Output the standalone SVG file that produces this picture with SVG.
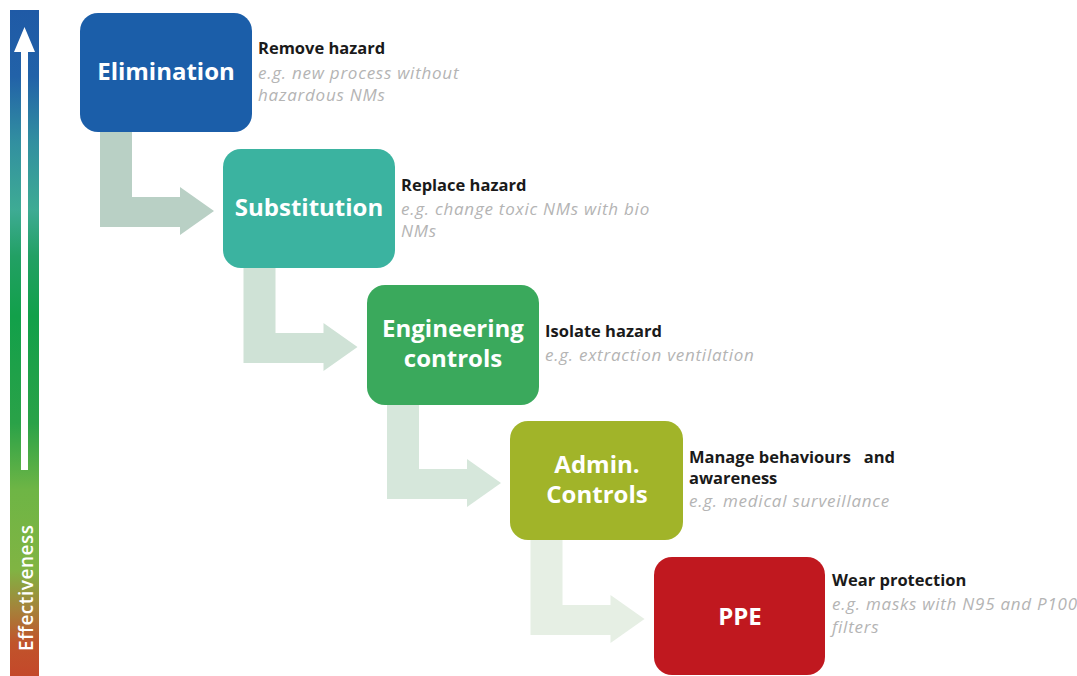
<svg xmlns="http://www.w3.org/2000/svg" width="1077" height="676" viewBox="0 0 1077 676">
  <defs>
    <linearGradient id="effGrad" x1="0" y1="0" x2="0" y2="1">
      <stop offset="0" stop-color="#1f5aa6"/>
      <stop offset="0.1" stop-color="#2262a8"/>
      <stop offset="0.2" stop-color="#3290a0"/>
      <stop offset="0.3" stop-color="#3eab94"/>
      <stop offset="0.37" stop-color="#22a064"/>
      <stop offset="0.46" stop-color="#12a04a"/>
      <stop offset="0.62" stop-color="#2aa248"/>
      <stop offset="0.72" stop-color="#6eb545"/>
      <stop offset="0.84" stop-color="#80b443"/>
      <stop offset="0.9" stop-color="#a5823a"/>
      <stop offset="0.95" stop-color="#c0542b"/>
      <stop offset="1" stop-color="#c4482a"/>
    </linearGradient>
    <!-- L-shaped step arrow, origin at top-left of the vertical stem -->
    <path id="stepArrow" d="M0 0 H32 V65 H80 V55 L114 79 L80 103 V95 H0 Z"/>
  </defs>
  <style>
    .box { stroke: none; }
    .lbl { font-family: "Open Sans", "Liberation Sans", sans-serif; font-weight: 700; font-size: 24px; fill: #ffffff; text-anchor: middle; }
    .head { font-family: "Open Sans", "Liberation Sans", sans-serif; font-weight: 700; font-size: 16.5px; fill: #1a1a1a; white-space: pre; }
    .ex { font-family: "Open Sans", "Liberation Sans", sans-serif; font-style: italic; font-size: 17px; letter-spacing: 0.75px; fill: #b4b4b4; }
    .eff { font-family: "Open Sans", "Liberation Sans", sans-serif; font-weight: 600; font-size: 19px; fill: #ffffff; }
  </style>

  <rect width="1077" height="676" fill="#ffffff"/>

  <!-- effectiveness scale -->
  <g id="scale">
    <rect x="10" y="10" width="29" height="666" fill="url(#effGrad)"/>
    <path d="M21 470 V52 H14 L24.5 27 L35 52 H28 V470 Z" fill="#ffffff"/>
    <text class="eff" transform="translate(33 651) rotate(-90)" textLength="126" lengthAdjust="spacing">Effectiveness</text>
  </g>

  <!-- connectors between levels -->
  <g id="connectors">
    <use href="#stepArrow" transform="translate(100 132)" fill="#b9d0c5"/>
    <use href="#stepArrow" transform="translate(243.5 268)" fill="#cfe2d6"/>
    <use href="#stepArrow" transform="translate(387 404)" fill="#d6e7db"/>
    <use href="#stepArrow" transform="translate(530.5 540)" fill="#e6efe4"/>
  </g>

  <g id="elimination">
    <rect class="box" x="80" y="13" width="172" height="119" rx="18" fill="#1b5ea9"/>
    <text class="lbl" x="166" y="80">Elimination</text>
    <text class="head" x="258" y="54">Remove hazard</text>
    <text class="ex" x="258" y="79">e.g. new process without</text>
    <text class="ex" x="258" y="101">hazardous NMs</text>
  </g>

  <g id="substitution">
    <rect class="box" x="223" y="149" width="172" height="119" rx="18" fill="#3bb3a0"/>
    <text class="lbl" x="309" y="216">Substitution</text>
    <text class="head" x="401" y="191">Replace hazard</text>
    <text class="ex" x="401" y="215">e.g. change toxic NMs with bio</text>
    <text class="ex" x="401" y="237">NMs</text>
  </g>

  <g id="engineering">
    <rect class="box" x="367" y="285" width="172" height="120" rx="18" fill="#3aa95c"/>
    <text class="lbl" x="453" y="337">Engineering</text>
    <text class="lbl" x="453" y="367">controls</text>
    <text class="head" x="545" y="337">Isolate hazard</text>
    <text class="ex" x="545" y="361">e.g. extraction ventilation</text>
  </g>

  <g id="admin">
    <rect class="box" x="510" y="421" width="173" height="119" rx="18" fill="#a1b429"/>
    <text class="lbl" x="597" y="473">Admin.</text>
    <text class="lbl" x="597" y="503">Controls</text>
    <text class="head" x="689" y="463" xml:space="preserve">Manage behaviours   and</text>
    <text class="head" x="689" y="484">awareness</text>
    <text class="ex" x="689" y="507">e.g. medical surveillance</text>
  </g>

  <g id="ppe">
    <rect class="box" x="654" y="557" width="171" height="118" rx="18" fill="#c0181f"/>
    <text class="lbl" x="740" y="625">PPE</text>
    <text class="head" x="832" y="586">Wear protection</text>
    <text class="ex" x="832" y="610">e.g. masks with N95 and P100</text>
    <text class="ex" x="832" y="633">filters</text>
  </g>
</svg>
